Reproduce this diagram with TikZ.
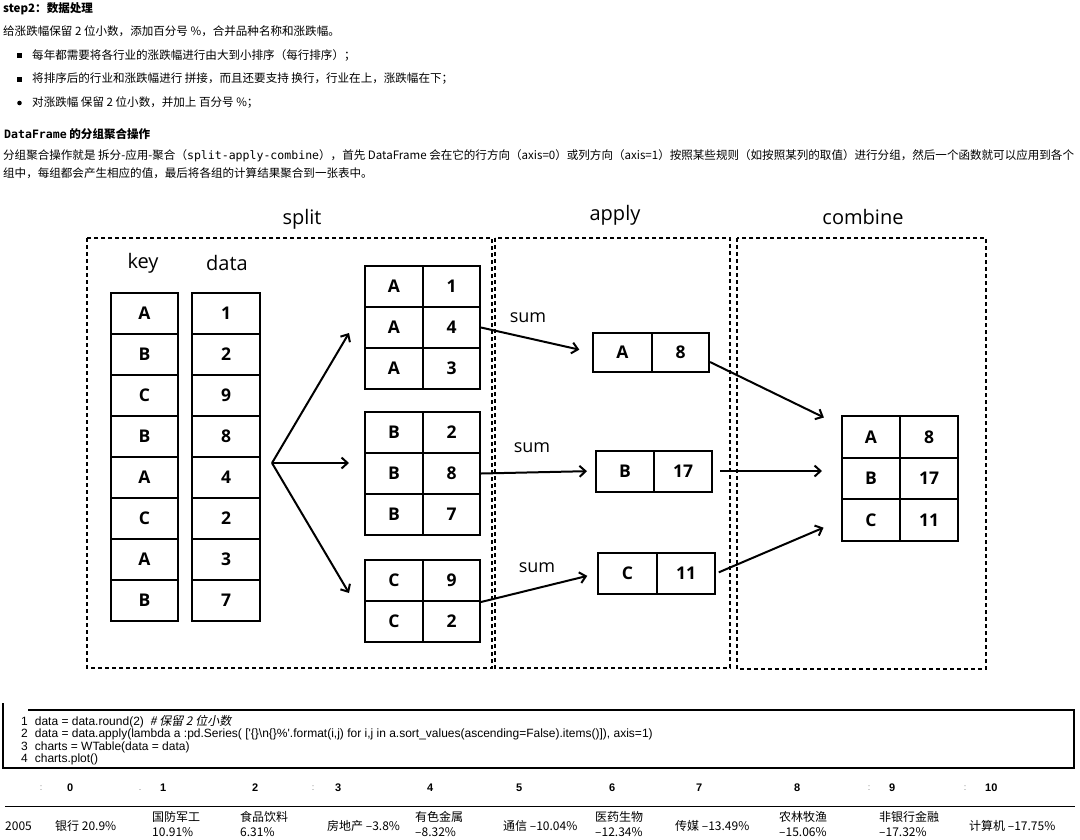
\documentclass[tikz,border=0pt]{standalone}
\usepackage{fontspec}
\setmainfont{Liberation Sans}
\setmonofont{DejaVu Sans Mono}
\newfontfamily\cjk{Noto Sans CJK SC}
\newfontfamily\cjkit[FakeSlant=0.2]{Noto Sans CJK SC}
\newfontfamily\lab{Open Sans}
\usetikzlibrary{positioning,arrows.meta}

\tikzset{
  txt/.style={anchor=west, inner sep=0pt, font=\cjk\fontsize{11.55}{13}\selectfont},
  hd/.style={anchor=west, inner sep=0pt, font=\cjk\bfseries\fontsize{11.55}{13}\selectfont},
  cell/.style={draw, line width=2pt, minimum width=58pt, minimum height=41pt, inner sep=0pt,
    font=\lab\bfseries\fontsize{17.5}{19}\selectfont},
  frame/.style={draw, dash pattern=on 4pt off 3pt, line width=1.5pt},
  ttl/.style={inner sep=0pt, font=\lab\fontsize{20}{22}\selectfont},
  sumlbl/.style={inner sep=0pt, font=\lab\fontsize{18}{20}\selectfont},
  arr/.style={-{Straight Barb[length=6pt,width=11pt]}, line width=2pt},
  codeln/.style={anchor=west, inner sep=0pt, font=\fontsize{12}{12}\selectfont},
  tcell/.style={anchor=west, inner sep=0pt, align=left, font=\cjk\fontsize{12}{15}\selectfont},
  thead/.style={anchor=west, inner sep=0pt, font=\bfseries\fontsize{11}{13}\selectfont},
  handle/.style={inner sep=0pt, text=gray, font=\fontsize{9}{10}\selectfont},
}

\begin{document}
\begin{tikzpicture}[x=1pt, y=-1pt]
    \useasboundingbox (0,0) rectangle (1080,839);

    % Texte d'introduction
    \node[hd] (step) at (3,9) {step2：数据处理};
    \node[txt] (intro) at (3,31) {给涨跌幅保留 2 位小数，添加百分号 \%，合并品种名称和涨跌幅。};
    \fill (17,53) rectangle (22,58);
    \node[txt] (b1) at (32,55) {每年都需要将各行业的涨跌幅进行由大到小排序（每行排序）；};
    \fill (17,77) rectangle (22,82);
    \node[txt] (b2) at (32,79) {将排序后的行业和涨跌幅进行 拼接，而且还要支持 换行，行业在上，涨跌幅在下；};
    \fill (19.5,103) circle (2.3);
    \node[txt] (b3) at (32,103) {对涨跌幅 保留 2 位小数，并加上 百分号 \%；};

    \node[hd] (sec) at (4,134) {{\ttfamily\bfseries DataFrame} 的分组聚合操作};
    \node[txt] (par1) at (3,156) {分组聚合操作就是 拆分-应用-聚合（{\ttfamily split-apply-combine}），首先 DataFrame 会在它的行方向（axis=0）或列方向（axis=1）按照某些规则（如按照某列的取值）进行分组，然后一个函数就可以应用到各个};
    \node[txt] (par2) at (3,173) {组中，每组都会产生相应的值，最后将各组的计算结果聚合到一张表中。};

    % Cadres split / apply / combine
    \draw[frame] (87,238) rectangle (492,668);
    \draw[frame] (495,238) rectangle (730,668);
    \draw[frame] (737,238) rectangle (986,669);
    \node[ttl] (tsplit) at (302,219) {split};
    \node[ttl] (tapply) at (615,215) {apply};
    \node[ttl] (tcomb) at (863,217) {combine};

    % Colonnes key / data
    \node[ttl] (tkey) at (143,263) {key};
    \node[ttl] (tdata) at (227,263) {data};
    \foreach \k/\d [count=\i] in {A/1,B/2,C/9,B/8,A/4,C/2,A/3,B/7} {
        \node[cell, minimum width=67pt] (k\i) at (144.5,272.5+41*\i) {\k};
        \node[cell, minimum width=68pt] (d\i) at (226,272.5+41*\i) {\d};
    }

    % Groupes
    \foreach \k/\d [count=\i] in {A/1,A/4,A/3} {
        \node[cell] (gAk\i) at (394,245.5+41*\i) {\k};
        \node[cell, minimum width=57pt] (gAv\i) at (451.5,245.5+41*\i) {\d};
    }
    \foreach \k/\d [count=\i] in {B/2,B/8,B/7} {
        \node[cell] (gBk\i) at (394,391.5+41*\i) {\k};
        \node[cell, minimum width=57pt] (gBv\i) at (451.5,391.5+41*\i) {\d};
    }
    \foreach \k/\d [count=\i] in {C/9,C/2} {
        \node[cell] (gCk\i) at (394,539.5+41*\i) {\k};
        \node[cell, minimum width=57pt] (gCv\i) at (451.5,539.5+41*\i) {\d};
    }

    % Fourche
    \coordinate (fork) at (272,463);
    \coordinate (toA) at (349,333);
    \coordinate (toB) at (349,463);
    \coordinate (toC) at (349,593);
    \draw[arr] (fork) -- (toA);
    \draw[arr] (fork) -- (toB);
    \draw[arr] (fork) -- (toC);

    % Resultats apply
    \node[cell, minimum width=59pt, minimum height=39pt] (sAk) at (622.5,352.5) {A};
    \node[cell, minimum width=57pt, minimum height=39pt] (sAv) at (680.5,352.5) {8};
    \node[cell] (sBk) at (625,471) {B};
    \node[cell] (sBv) at (683,471) {17};
    \node[cell, minimum width=59pt] (sCk) at (627.5,573.5) {C};
    \node[cell] (sCv) at (686,573.5) {11};

    \draw[arr, shorten >=13pt] (gAv2.east) -- (sAk.west);
    \draw[arr, shorten >=8pt] (gBv2.east) -- (sBk.west);
    \draw[arr, shorten >=10pt] (gCv1.south east) -- (sCk.west);
    \node[sumlbl] (sumA) at (528,318) {sum};
    \node[sumlbl] (sumB) at (532,448) {sum};
    \node[sumlbl] (sumC) at (537,568) {sum};

    % Table combine
    \foreach \k/\d [count=\i] in {A/8,B/17,C/11} {
        \node[cell, minimum height=41.7pt] (ck\i) at (871,395.1+41.7*\i) {\k};
        \node[cell, minimum height=41.7pt] (cv\i) at (929,395.1+41.7*\i) {\d};
    }
    \draw[arr, shorten >=19pt] ([yshift=-9.5pt]sAv.east) -- ([yshift=11pt]ck1.west);
    \draw[arr, shorten <=7pt, shorten >=19pt] (sBv.east) -- (sBv.east -| ck2.west);
    \draw[arr, shorten <=3pt, shorten >=19pt] (sCv.east) -- (ck3.west);

    % Code
    \draw[line width=1.5pt] (3,703) -- (3,768) -- (1074,768) -- (1074,710) -- (28,710);
    \node[codeln] (c1) at (21,722) {1\hspace{7pt}data = data.round(2)\hspace{6pt}{\cjkit\# 保留 2 位小数}};
    \node[codeln] (c2) at (21,734.5) {2\hspace{7pt}data = data.apply(lambda a :pd.Series( [\textquotesingle\{\}\textbackslash n\{\}\%\textquotesingle.format(i,j) for i,j in a.sort\_values(ascending=False).items()]), axis=1)};
    \node[codeln] (c3) at (21,747) {3\hspace{7pt}charts = WTable(data = data)};
    \node[codeln] (c4) at (21,759.5) {4\hspace{7pt}charts.plot()};

    % Tableau resultat
    \foreach \x/\t in {67/0,160/1,252/2,335/3,427/4,516/5,609/6,696/7,794/8,889/9,985/10}
        \node[thead] (h\t) at (\x,788) {\t};
    \foreach \x in {41,313,869,965}
        \node[handle] at (\x,788) {:};
    \node[handle] at (140,790) {.};
    \draw[line width=1pt] (5,806) -- (1075,806);
    \node[tcell] (y2005) at (5,826) {2005};
    \node[tcell] (t0) at (55,826) {银行 20.9\%};
    \node[tcell] (t1) at (152,824) {国防军工\\10.91\%};
    \node[tcell] (t2) at (240,824) {食品饮料\\6.31\%};
    \node[tcell] (t3) at (327,826) {房地产 –3.8\%};
    \node[tcell] (t4) at (415,824) {有色金属\\–8.32\%};
    \node[tcell] (t5) at (503,826) {通信 –10.04\%};
    \node[tcell] (t6) at (595,824) {医药生物\\–12.34\%};
    \node[tcell] (t7) at (675,826) {传媒 –13.49\%};
    \node[tcell] (t8) at (779,824) {农林牧渔\\–15.06\%};
    \node[tcell] (t9) at (879,824) {非银行金融\\–17.32\%};
    \node[tcell] (t10) at (969,826) {计算机 –17.75\%};
\end{tikzpicture}
\end{document}
